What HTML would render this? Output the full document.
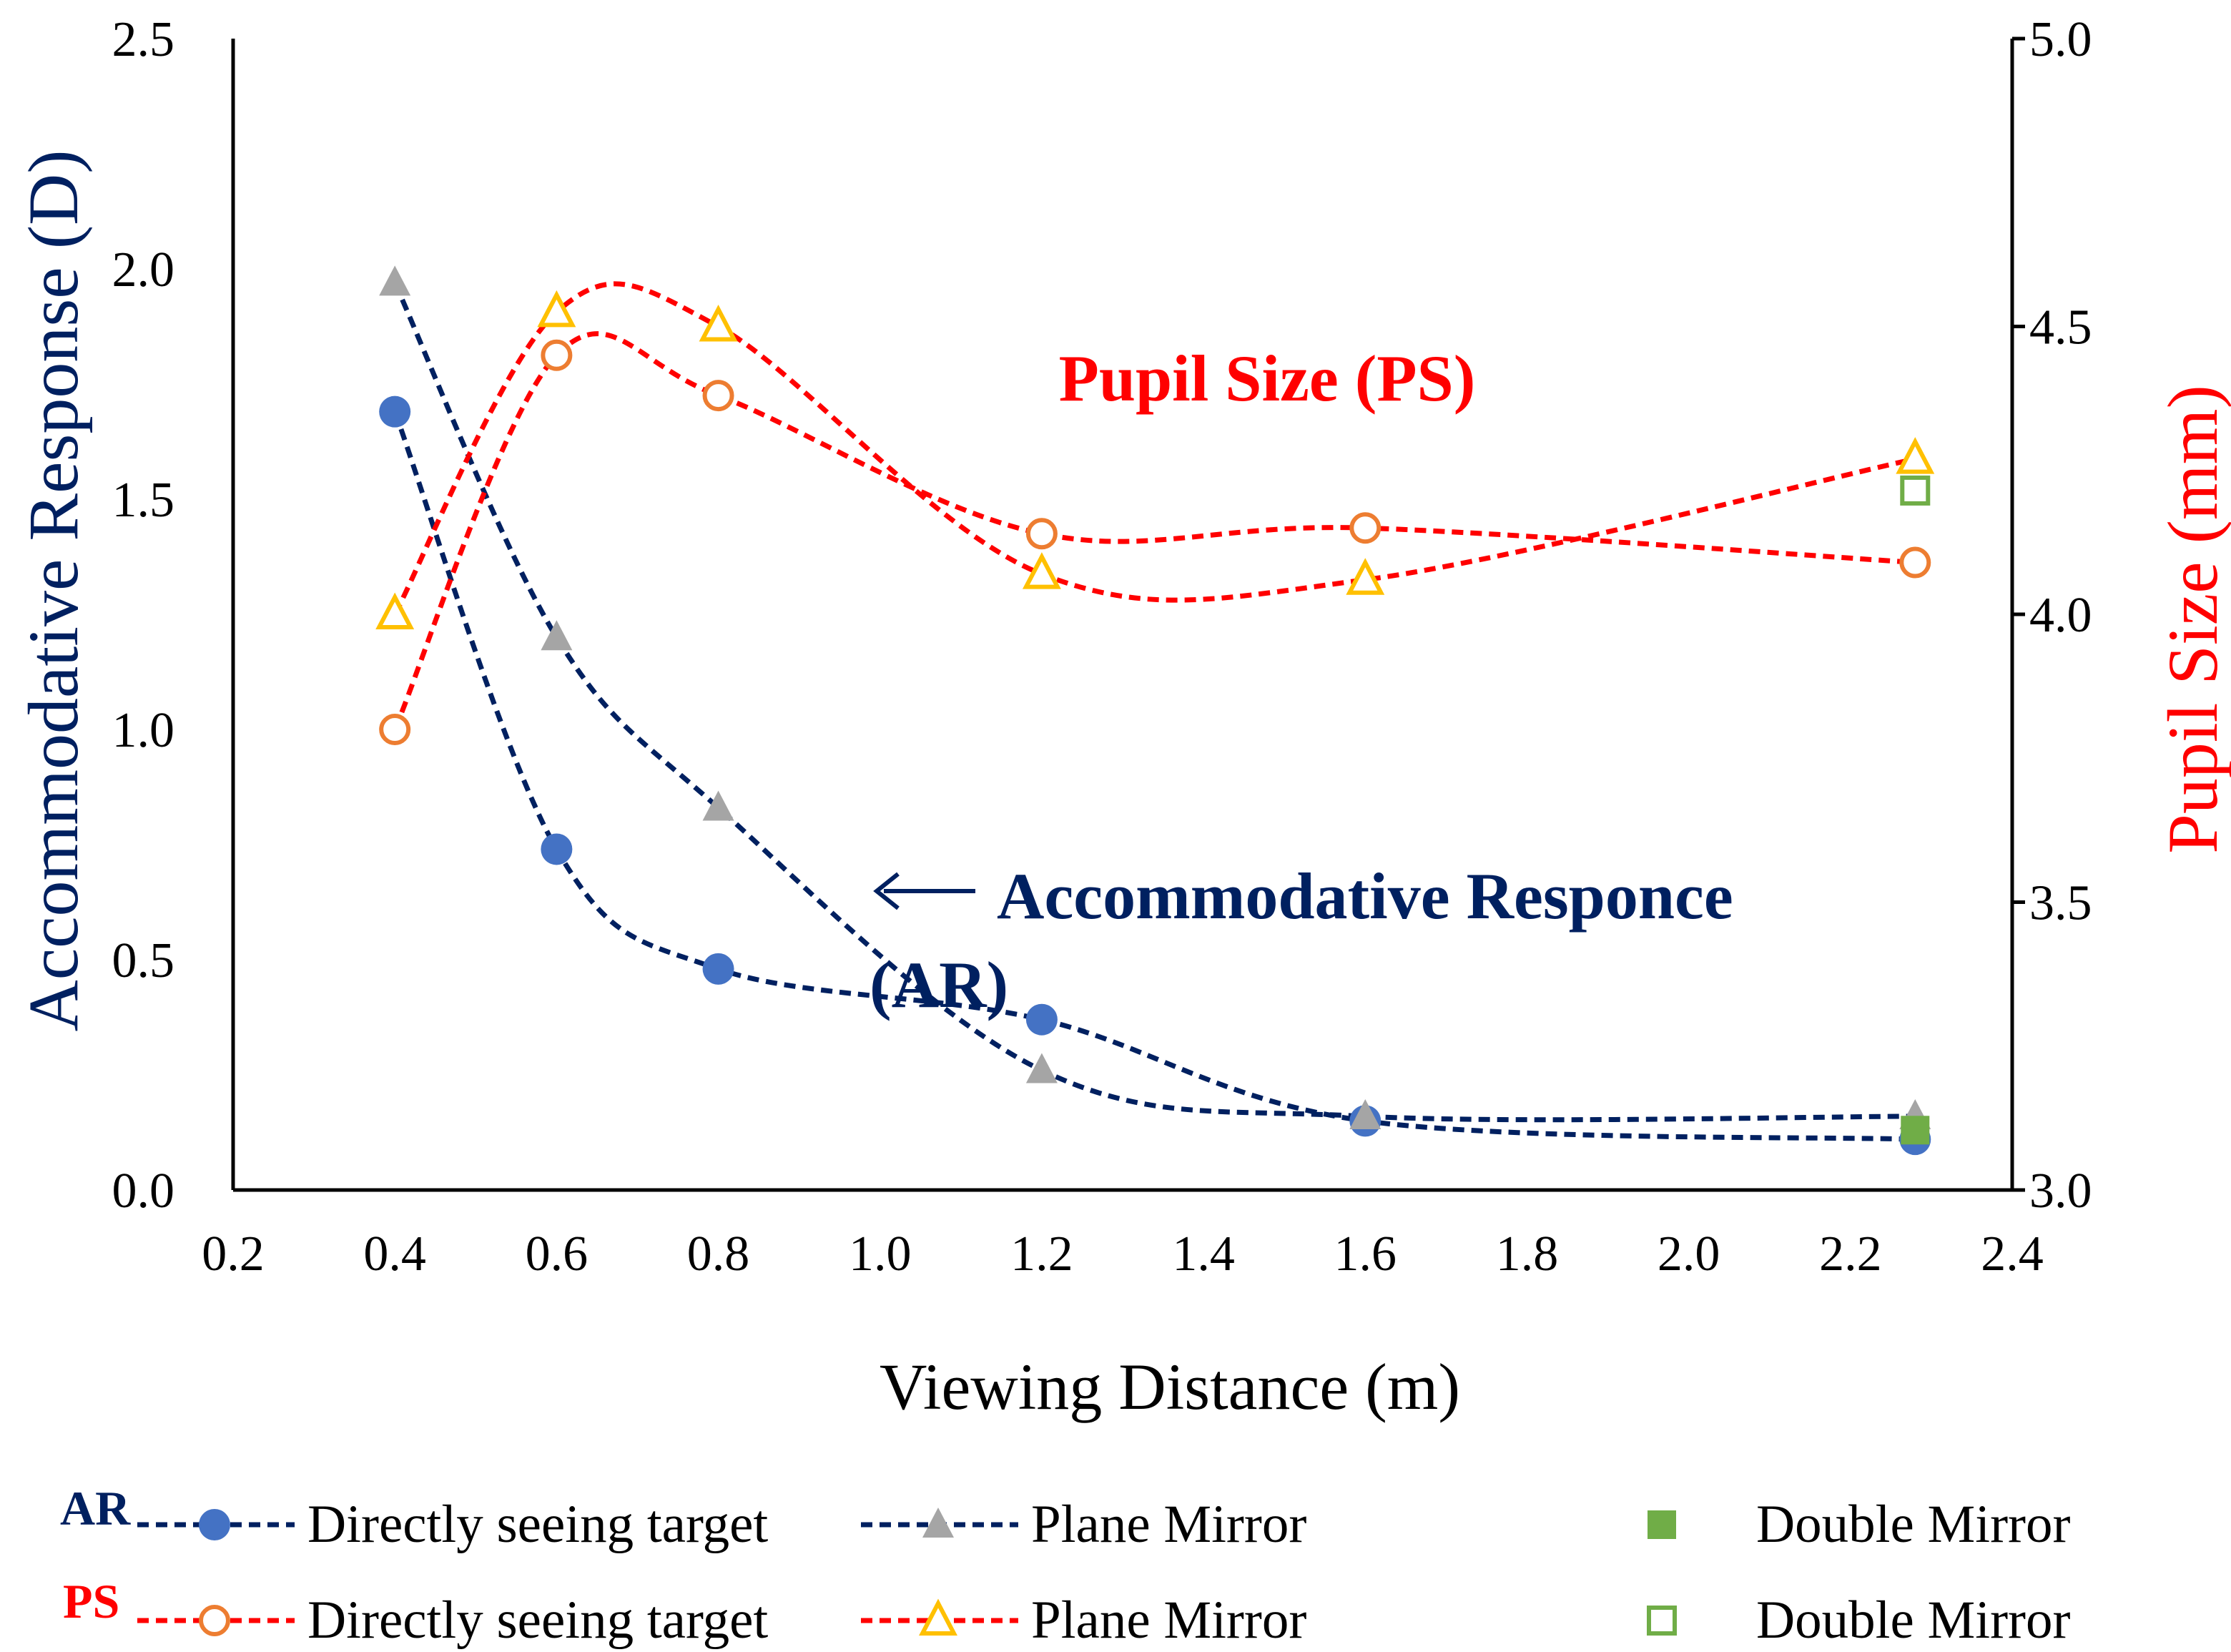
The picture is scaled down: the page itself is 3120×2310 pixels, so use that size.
<!DOCTYPE html>
<html><head><meta charset="utf-8"><style>
html,body{margin:0;padding:0;background:#fff;}
svg{display:block;}
text{font-family:"Liberation Serif",serif;}
</style></head><body>
<svg id="chart" width="3120" height="2310" viewBox="0 0 1560 1155" xmlns="http://www.w3.org/2000/svg">
<rect width="1560" height="1155" fill="#fff"/>
<g id="axes"></g>
<g id="series"></g>
<text x="0" y="0" transform="translate(54,413) rotate(-90)" text-anchor="middle" font-size="50" fill="#002060">Accommodative Response (D)</text>
<text x="0" y="0" transform="translate(1550,433) rotate(-90)" text-anchor="middle" font-size="50" fill="#ff0000">Pupil Size (mm)</text>
<text x="818" y="985" text-anchor="middle" font-size="46" fill="#000">Viewing Distance (m)</text>
<text x="886" y="280" text-anchor="middle" font-size="46" font-weight="bold" fill="#ff0000">Pupil Size (PS)</text>
<g>
<line x1="618" y1="623" x2="682" y2="623" stroke="#002060" stroke-width="3"/>
<path d="M628,611 L613,623 L628,635" fill="none" stroke="#002060" stroke-width="3"/>
<text x="697" y="642" font-size="46" font-weight="bold" fill="#002060">Accommodative Responce</text>
<text x="608" y="704" font-size="46" font-weight="bold" fill="#002060">(AR)</text>
</g>
<g id="legend"></g>
</svg>
<script>
const xTicks=[0.2,0.4,0.6,0.8,1.0,1.2,1.4,1.6,1.8,2.0,2.2,2.4];
const yLeftTicks=[0,0.5,1.0,1.5,2.0,2.5];
const yRightTicks=[3.0,3.5,4.0,4.5,5.0];
const distances=[0.4,0.6,0.8,1.2,1.6,2.28];
const arDirect=[1.69,0.74,0.48,0.37,0.15,0.11];
const arPlane=[1.97,1.20,0.83,0.26,0.16,0.16];
const arDouble=[0.13];
const psDirect=[3.80,4.45,4.38,4.14,4.15,4.09];
const psPlane=[4.00,4.525,4.50,4.07,4.06,4.27];
const psDouble=[4.215];
const doubleX=[2.28];

const NS="http://www.w3.org/2000/svg";
const L=163,R=1407,T=27,B=832;
const X=v=>L+(v-0.2)/2.2*(R-L);
const YL=v=>B-v/2.5*(B-T);
const YR=v=>B-(v-3)/2*(B-T);
function mk(tag,attrs,parent){const e=document.createElementNS(NS,tag);for(const k in attrs)e.setAttribute(k,attrs[k]);parent.appendChild(e);return e;}
const axes=document.getElementById('axes');
const series=document.getElementById('series');
const legend=document.getElementById('legend');

let e;
e=mk('line',{x1:L,y1:T,x2:L,y2:B,stroke:'#000','stroke-width':2.5},axes);


e=mk('line',{x1:R,y1:T,x2:R,y2:B,stroke:'#000','stroke-width':2.5},axes);


e=mk('line',{x1:L,y1:B,x2:R,y2:B,stroke:'#000','stroke-width':2.5},axes);


xTicks.forEach(v=>{
 const t=mk('text',{x:X(v),y:888,'text-anchor':'middle','font-size':35,fill:'#000'},axes);t.textContent=v.toFixed(1);
 
 
});
yLeftTicks.forEach(v=>{
 const t=mk('text',{x:122,y:YL(v)+12,'text-anchor':'end','font-size':35,fill:'#000'},axes);t.textContent=v.toFixed(1);
 
 
});
yRightTicks.forEach(v=>{
 mk('line',{x1:R,y1:YR(v),x2:R+9,y2:YR(v),stroke:'#000','stroke-width':2.5},axes);
 const t=mk('text',{x:1419,y:YR(v)+12,'font-size':35,fill:'#000'},axes);t.textContent=v.toFixed(1);
 
 
});

function smooth(pts){
 let d='M'+pts[0][0]+','+pts[0][1];
 for(let i=0;i<pts.length-1;i++){
  const p0=pts[i-1]||pts[i],p1=pts[i],p2=pts[i+1],p3=pts[i+2]||pts[i+1];
  const c1=[p1[0]+(p2[0]-p0[0])/6,p1[1]+(p2[1]-p0[1])/6];
  const c2=[p2[0]-(p3[0]-p1[0])/6,p2[1]-(p3[1]-p1[1])/6];
  d+=` C${c1[0]},${c1[1]} ${c2[0]},${c2[1]} ${p2[0]},${p2[1]}`;
 }
 return d;
}
function line(vals,yf,color,name){
 const p=mk('path',{d:smooth(vals.map((v,i)=>[X(distances[i]),yf(v)])),fill:'none',stroke:color,'stroke-width':3.5,'stroke-dasharray':'8,5'},series);
 
 
}
function tri(cx,cy,fill,stroke,parent){
 const s=11;return mk('polygon',{points:`${cx},${cy-s-1} ${cx-s},${cy+s-2} ${cx+s},${cy+s-2}`,fill:fill,stroke:stroke,'stroke-width':stroke==='none'?0:3},parent);
}
line(arDirect,YL,'#002060','ar-direct-line');
line(arPlane,YL,'#002060','ar-plane-line');
line(psDirect,YR,'#ff0000','ps-direct-line');
line(psPlane,YR,'#ff0000','ps-plane-line');
arDirect.forEach((v,i)=>{const c=mk('circle',{cx:X(distances[i]),cy:YL(v),r:11,fill:'#4472c4'},series);
 
 });
arPlane.forEach((v,i)=>{const c=tri(X(distances[i]),YL(v),'#a5a5a5','none',series);
 
 });
arDouble.forEach((v,i)=>{const c=mk('rect',{x:X(doubleX[i])-10,y:YL(v)-10,width:20,height:20,fill:'#70ad47'},series);
 
 });
psDirect.forEach((v,i)=>{const c=mk('circle',{cx:X(distances[i]),cy:YR(v),r:9.5,fill:'#fff',stroke:'#ed7d31','stroke-width':3},series);
 
 });
psPlane.forEach((v,i)=>{const c=tri(X(distances[i]),YR(v),'#fff','#ffc000',series);
 
 });
psDouble.forEach((v,i)=>{const c=mk('rect',{x:X(doubleX[i])-9,y:YR(v)-9,width:18,height:18,fill:'#fff',stroke:'#70ad47','stroke-width':3},series);
 
 });

function ltext(x,y,s,name){const t=mk('text',{x:x,y:y,'font-size':37.5,fill:'#000'},legend);t.textContent=s;
 
 }
let t=mk('text',{x:42,y:1066,'font-size':34,'font-weight':'bold',fill:'#002060'},legend);t.textContent='AR';


t=mk('text',{x:44,y:1131,'font-size':34,'font-weight':'bold',fill:'#ff0000'},legend);t.textContent='PS';


mk('line',{x1:96,y1:1066,x2:206,y2:1066,stroke:'#002060','stroke-width':3.5,'stroke-dasharray':'8,5'},legend);
mk('circle',{cx:150,cy:1066,r:11,fill:'#4472c4'},legend);
ltext(215,1078,'Directly seeing target','legend-ar-direct');
mk('line',{x1:96,y1:1133,x2:206,y2:1133,stroke:'#ff0000','stroke-width':3.5,'stroke-dasharray':'8,5'},legend);
mk('circle',{cx:150,cy:1133,r:9.5,fill:'#fff',stroke:'#ed7d31','stroke-width':3},legend);
ltext(215,1145,'Directly seeing target','legend-ps-direct');
mk('line',{x1:602,y1:1066,x2:712,y2:1066,stroke:'#002060','stroke-width':3.5,'stroke-dasharray':'8,5'},legend);
tri(656,1066,'#a5a5a5','none',legend);
ltext(721,1078,'Plane Mirror','legend-ar-plane');
mk('line',{x1:602,y1:1133,x2:712,y2:1133,stroke:'#ff0000','stroke-width':3.5,'stroke-dasharray':'8,5'},legend);
tri(656,1133,'#fff','#ffc000',legend);
ltext(721,1145,'Plane Mirror','legend-ps-plane');
mk('rect',{x:1152,y:1056,width:20,height:20,fill:'#70ad47'},legend);
ltext(1228,1078,'Double Mirror','legend-ar-double');
mk('rect',{x:1153,y:1124,width:18,height:18,fill:'#fff',stroke:'#70ad47','stroke-width':3},legend);
ltext(1228,1145,'Double Mirror','legend-ps-double');
</script>
</body></html>
